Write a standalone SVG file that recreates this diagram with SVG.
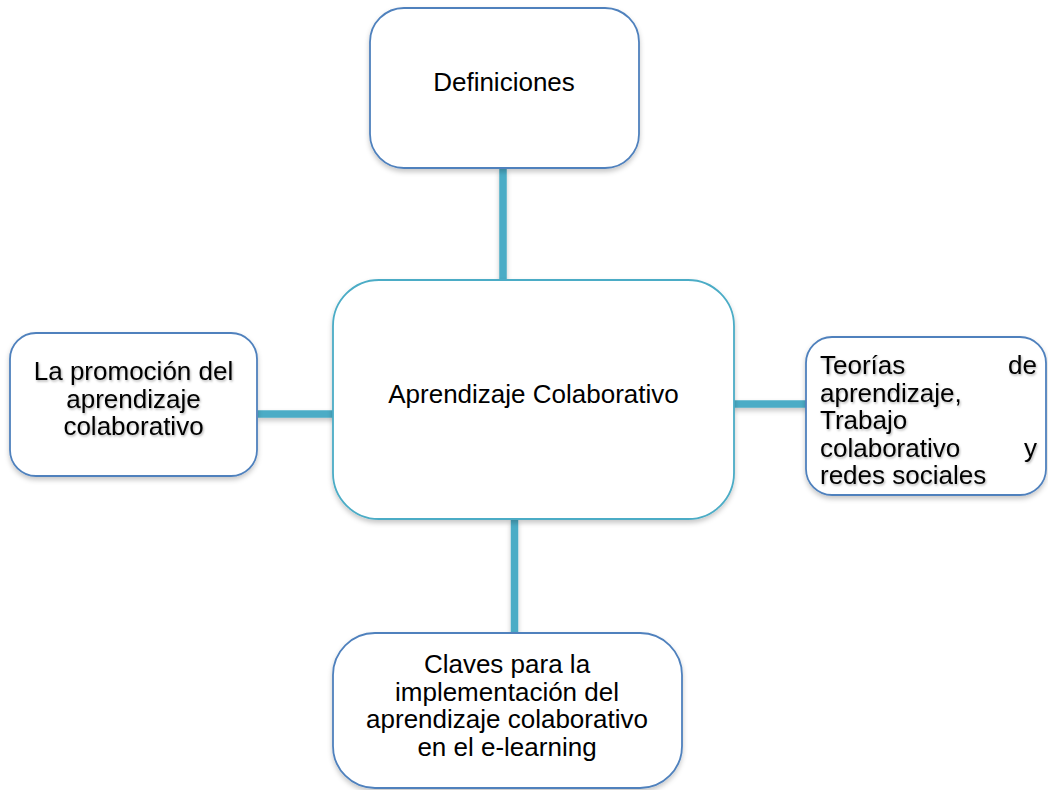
<svg xmlns="http://www.w3.org/2000/svg" width="1048" height="790" viewBox="0 0 1048 790">
<defs>
<filter id="sh" x="-10%" y="-10%" width="130%" height="130%">
<feDropShadow dx="0" dy="3" stdDeviation="2.5" flood-color="#000" flood-opacity="0.22"/>
</filter>
<filter id="tsh" x="-5%" y="-20%" width="110%" height="150%">
<feDropShadow dx="1" dy="1.5" stdDeviation="1" flood-color="#000" flood-opacity="0.3"/>
</filter>
</defs>
<style>
.box{fill:#fff;stroke:#4f81bd;stroke-width:1.8}
.main{fill:#fff;stroke:#4bacc6;stroke-width:1.8}
.con{stroke:#4bacc6;stroke-width:7.5;fill:none}
text{font-family:"Liberation Sans",Arial,sans-serif;font-size:26px;fill:#000}
.c{text-anchor:middle}
.e{text-anchor:end}
.ts{filter:url(#tsh)}
</style>
<g id="connectors" filter="url(#sh)">
<line class="con" x1="503" y1="168" x2="503" y2="281"/>
<line class="con" x1="258" y1="414" x2="336" y2="414"/>
<line class="con" x1="733" y1="404" x2="811" y2="404"/>
<line class="con" x1="514.5" y1="519" x2="514.5" y2="633"/>
</g>
<g id="definiciones">
<rect class="box" x="370" y="8" width="269" height="160" rx="34" filter="url(#sh)"/>
<text class="c" x="504" y="91">Definiciones</text>
</g>
<g id="aprendizaje">
<rect class="main" x="333" y="280" width="401" height="239" rx="46" filter="url(#sh)"/>
<text class="c" x="533.5" y="403">Aprendizaje Colaborativo</text>
</g>
<g id="promocion">
<rect class="box" x="10" y="333" width="247" height="143" rx="26" filter="url(#sh)"/>
<g class="ts">
<text class="c" x="133.5" y="380">La promoción del</text>
<text class="c" x="133.5" y="407.5">aprendizaje</text>
<text class="c" x="133.5" y="435">colaborativo</text>
</g>
</g>
<g id="teorias">
<rect class="box" x="806" y="337" width="240" height="158" rx="26" filter="url(#sh)"/>
<g class="ts">
<text x="820" y="374">Teorías</text>
<text class="e" x="1037" y="374">de</text>
<text x="820" y="401.5">aprendizaje,</text>
<text x="820" y="429">Trabajo</text>
<text x="820" y="456.5">colaborativo</text>
<text class="e" x="1037" y="456.5">y</text>
<text x="820" y="484">redes sociales</text>
</g>
</g>
<g id="claves">
<rect class="box" x="333" y="633" width="349" height="155" rx="42" filter="url(#sh)"/>
<text class="c" x="507" y="673">Claves para la</text>
<text class="c" x="507" y="700.5">implementación del</text>
<text class="c" x="507" y="728">aprendizaje colaborativo</text>
<text class="c" x="507" y="755.5">en el e-learning</text>
</g>
</svg>
